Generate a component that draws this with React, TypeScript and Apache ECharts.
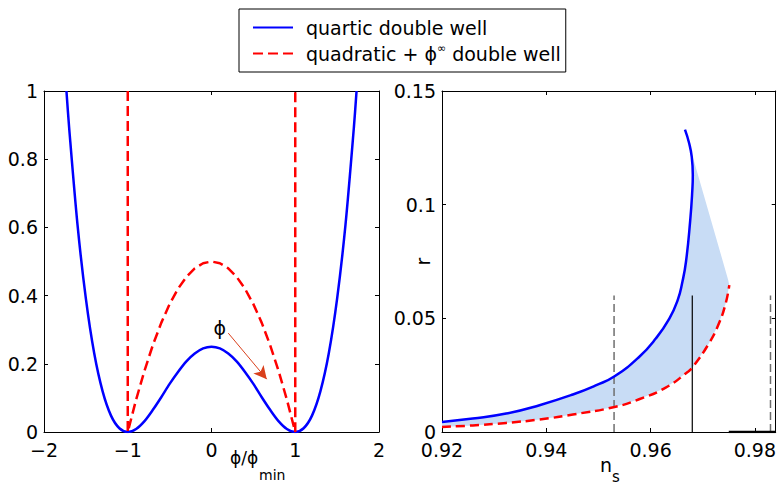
import React, { useEffect, useRef } from "react";
import * as echarts from "echarts";

// ---- left panel: potentials V(phi/phi_min)
const phiX = [-1.732, -1.7, -1.6, -1.5, -1.4, -1.3, -1.2, -1.1, -1.0, -0.9, -0.8, -0.7, -0.6, -0.5, -0.4, -0.3, -0.2, -0.1, 0,
  0.1, 0.2, 0.3, 0.4, 0.5, 0.6, 0.7, 0.8, 0.9, 1.0, 1.1, 1.2, 1.3, 1.4, 1.5, 1.6, 1.7, 1.732];
const quarticV = [1.0, 0.893, 0.608, 0.391, 0.23, 0.119, 0.048, 0.011, 0, 0.009, 0.032, 0.065, 0.102, 0.141, 0.176, 0.207, 0.23, 0.245, 0.25,
  0.245, 0.23, 0.207, 0.176, 0.141, 0.102, 0.065, 0.032, 0.009, 0, 0.011, 0.048, 0.119, 0.23, 0.391, 0.608, 0.893, 1.0];
const quadX = [-1, -1, -0.9, -0.8, -0.7, -0.6, -0.5, -0.4, -0.3, -0.2, -0.1, 0, 0.1, 0.2, 0.3, 0.4, 0.5, 0.6, 0.7, 0.8, 0.9, 1, 1];
const quadV = [1, 0, 0.095, 0.18, 0.255, 0.32, 0.375, 0.42, 0.455, 0.48, 0.495, 0.5, 0.495, 0.48, 0.455, 0.42, 0.375, 0.32, 0.255, 0.18, 0.095, 0, 1];
const arrowFrom = [0.2, 0.29];
const arrowTo = [0.66, 0.155];
const phiLabelAt = [0.1, 0.305];

// ---- right panel: r vs n_s
const nsQuartic = [0.92, 0.9259, 0.9323, 0.9387, 0.9451, 0.9496, 0.9531, 0.9578, 0.961, 0.9636, 0.9652, 0.9661, 0.9668, 0.9676, 0.968, 0.9681, 0.9679, 0.9674, 0.9666];
const rQuartic = [0.0044, 0.0059, 0.0081, 0.0118, 0.0165, 0.0206, 0.0245, 0.033, 0.0411, 0.0499, 0.058, 0.066, 0.075, 0.093, 0.106, 0.113, 0.121, 0.127, 0.133];
const nsQuad = [0.92, 0.9259, 0.9323, 0.9387, 0.9451, 0.9531, 0.9578, 0.9629, 0.9671, 0.9681, 0.9712, 0.9731, 0.9744, 0.9751];
const rQuad = [0.0022, 0.0029, 0.004, 0.0055, 0.0077, 0.011, 0.0144, 0.0195, 0.0264, 0.0286, 0.039, 0.0477, 0.0565, 0.0646];
const fillCorner = [0.9749, 0.0668];
const nsBoundsDashed = [0.953, 0.983];
const nsCentral = 0.968;
const boundTop = 0.06;
const baseSegment = [0.975, 0.984];

const NAME_Q = "quartic double well";
const NAME_D = "quadratic + ϕ∞ double well";
const FONT = "DejaVu Sans, Verdana, sans-serif";

const zip = (xs: number[], ys: number[]) => xs.map((x, i) => [x, ys[i]]);

export default function App() {
  const ref = useRef<HTMLDivElement>(null);
  useEffect(() => {
    if (!ref.current) return;
    const chart = echarts.init(ref.current, undefined, { renderer: "svg" });
    const axisCommon = {
      axisLine: { show: true, onZero: false, lineStyle: { color: "#000", width: 1 } },
      axisTick: { show: true, inside: true, length: 4, lineStyle: { color: "#000" } },
      splitLine: { show: false },
      axisLabel: { color: "#000", fontSize: 19, fontFamily: FONT },
    };
    const mirror = { axisLabel: { show: false } };
    const option: any = {
      animation: false,
      backgroundColor: "#fff",
      textStyle: { fontFamily: FONT },
      grid: [
        { left: 44, top: 91, width: 335, height: 341 },
        { left: 442, top: 91, width: 335, height: 341 },
      ],
      legend: {
        data: [NAME_Q, NAME_D],
        orient: "vertical",
        left: 239,
        top: 9,
        padding: [8, 5, 8, 13],
        itemGap: 5,
        itemWidth: 40,
        itemHeight: 20,
        borderColor: "#000",
        borderWidth: 1,
        backgroundColor: "#fff",
        itemStyle: { opacity: 0 },
        textStyle: {
          fontFamily: FONT,
          fontSize: 19,
          lineHeight: 21,
          color: "#000",
          padding: [0, 0, 0, 8],
          rich: {
            a: { fontFamily: FONT, fontSize: 19, lineHeight: 21, color: "#000" },
            b: { fontFamily: FONT, fontSize: 11, lineHeight: 8, color: "#000", verticalAlign: "top" },
          },
        },
        formatter: (n: string) =>
          n === NAME_D ? "{a|quadratic + ϕ}{b|∞}{a| double well}" : "{a|" + n + "}",
      },
      xAxis: [
        { ...axisCommon, gridIndex: 0, type: "value", min: -2, max: 2, interval: 1, position: "bottom",
          axisLabel: { ...axisCommon.axisLabel, margin: 8, formatter: (v: number) => String(v).replace("-", "\u2212") } },
        { ...axisCommon, ...mirror, gridIndex: 0, type: "value", min: -2, max: 2, interval: 1, position: "top" },
        { ...axisCommon, gridIndex: 1, type: "value", min: 0.92, max: 0.984, interval: 0.02, position: "bottom",
          axisLabel: { ...axisCommon.axisLabel, margin: 8, showMaxLabel: false } },
        { ...axisCommon, ...mirror, gridIndex: 1, type: "value", min: 0.92, max: 0.984, interval: 0.02, position: "top" },
      ],
      yAxis: [
        { ...axisCommon, gridIndex: 0, type: "value", min: 0, max: 1, interval: 0.2, position: "left",
          axisLabel: { ...axisCommon.axisLabel, margin: 6 } },
        { ...axisCommon, ...mirror, gridIndex: 0, type: "value", min: 0, max: 1, interval: 0.2, position: "right" },
        { ...axisCommon, gridIndex: 1, type: "value", min: 0, max: 0.15, interval: 0.05, position: "left",
          axisLabel: { ...axisCommon.axisLabel, margin: 6 },
          name: "r", nameLocation: "middle", nameGap: 10, nameMoveOverlap: false,
          nameTextStyle: { fontFamily: FONT, fontSize: 19, color: "#000" } },
        { ...axisCommon, ...mirror, gridIndex: 1, type: "value", min: 0, max: 0.15, interval: 0.05, position: "right" },
      ],
      graphic: [
        { type: "text", x: 230, y: 458, style: { text: "ϕ/ϕ", fontFamily: FONT, fontSize: 17, fill: "#000", align: "left", verticalAlign: "middle" } },
        { type: "text", x: 259, y: 475, style: { text: "min", fontFamily: FONT, fontSize: 14, fill: "#000", align: "left", verticalAlign: "middle" } },
        { type: "text", x: 600, y: 465, style: { text: "n", fontFamily: FONT, fontSize: 19, fill: "#000", align: "left", verticalAlign: "middle" } },
        { type: "text", x: 612, y: 477, style: { text: "s", fontFamily: FONT, fontSize: 15, fill: "#000", align: "left", verticalAlign: "middle" } },
      ],
      series: [
        {
          name: NAME_Q, type: "line", xAxisIndex: 0, yAxisIndex: 0, data: zip(phiX, quarticV),
          symbol: "none", smooth: 0.3, lineStyle: { color: "#0000ff", width: 2.5 }, itemStyle: { color: "#0000ff" },
          markPoint: {
            symbol: "circle", symbolSize: 0, silent: true,
            label: { show: true, formatter: "ϕ", fontFamily: FONT, fontSize: 19, color: "#000" },
            data: [{ coord: phiLabelAt }],
          },
        },
        {
          name: NAME_D, type: "line", xAxisIndex: 0, yAxisIndex: 0, data: zip(quadX, quadV),
          symbol: "none", lineStyle: { color: "#ff0000", width: 2.5, type: [10, 5] }, itemStyle: { color: "#ff0000" },
          markLine: {
            silent: true, symbol: ["none", "arrow"], symbolSize: [10, 13],
            lineStyle: { color: "#d9401c", width: 1, type: "solid" },
            label: { show: false },
            data: [[{ coord: arrowFrom }, { coord: arrowTo }]],
          },
        },
        {
          type: "custom", xAxisIndex: 2, yAxisIndex: 2, data: [[0.95, 0.05]], silent: true, z: 1,
          renderItem: (_p: any, api: any) => {
            const pts: number[][] = [];
            nsQuartic.forEach((x, i) => pts.push(api.coord([x, rQuartic[i]])));
            pts.push(api.coord(fillCorner));
            for (let i = nsQuad.length - 1; i >= 0; i--) pts.push(api.coord([nsQuad[i], rQuad[i]]));
            return { type: "polygon", shape: { points: pts }, style: { fill: "#c8dcf5", stroke: "none" } };
          },
        },
        ...nsBoundsDashed.map((x) => ({
          type: "line", xAxisIndex: 2, yAxisIndex: 2, data: [[x, 0], [x, boundTop]], symbol: "none", z: 2,
          lineStyle: { color: "#6e6e6e", width: 1.5, type: [8, 4] },
        })),
        {
          type: "line", xAxisIndex: 2, yAxisIndex: 2, data: [[nsCentral, 0], [nsCentral, boundTop]], symbol: "none", z: 2,
          lineStyle: { color: "#000", width: 1.2 },
        },
        {
          type: "line", xAxisIndex: 2, yAxisIndex: 2, data: [[baseSegment[0], 0], [baseSegment[1], 0]], symbol: "none", z: 2,
          lineStyle: { color: "#000", width: 2.5 },
        },
        {
          name: NAME_Q, type: "line", xAxisIndex: 2, yAxisIndex: 2, data: zip(nsQuartic, rQuartic), z: 3,
          symbol: "none", smooth: 0.5, lineStyle: { color: "#0000ff", width: 2.5 }, itemStyle: { color: "#0000ff" },
        },
        {
          name: NAME_D, type: "line", xAxisIndex: 2, yAxisIndex: 2, data: zip(nsQuad, rQuad), z: 3,
          symbol: "none", smooth: 0.5, lineStyle: { color: "#ff0000", width: 2.5, type: [9, 5] }, itemStyle: { color: "#ff0000" },
        },
      ],
    };
    chart.setOption(option);
    return () => chart.dispose();
  }, []);
  return (
    <div
      ref={ref}
      style={{ position: "fixed", left: 0, top: 0, width: 779, height: 485, background: "#fff" }}
    />
  );
}
